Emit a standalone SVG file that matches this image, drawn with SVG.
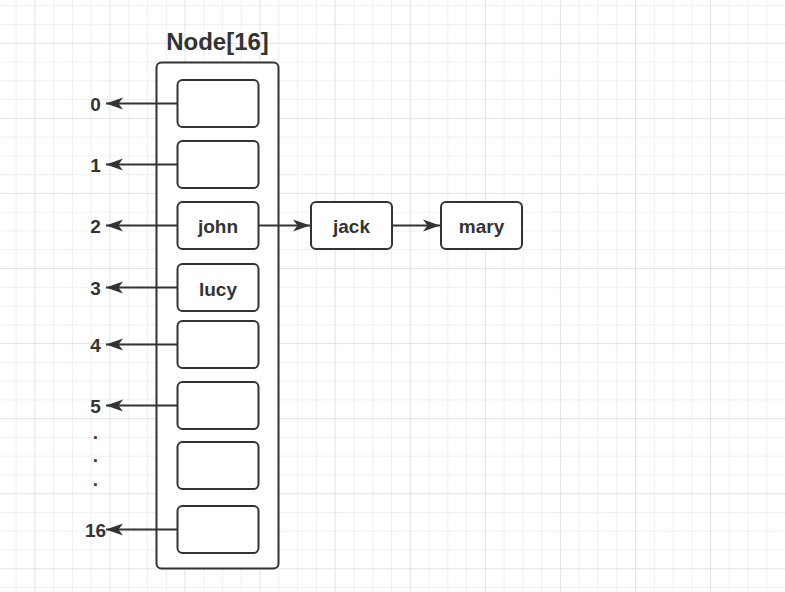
<svg xmlns="http://www.w3.org/2000/svg" width="785" height="592" viewBox="0 0 785 592">
<style>
.box{fill:#ffffff;stroke:#333333;stroke-width:2}
.edge{fill:none;stroke:#333333;stroke-width:2}
.t{font-family:"Liberation Sans",Arial,sans-serif;font-weight:bold;fill:#333333;text-anchor:middle}
.lbl{font-size:19px}
.num{font-size:19px}
.title{font-size:24px}
</style>
<defs>
<pattern id="grid" patternUnits="userSpaceOnUse" x="34.4" y="42.8" width="75.07" height="75.07">
<rect x="0" y="0" width="75.07" height="75.07" fill="#ffffff"/>
<rect x="18.77" y="0" width="1" height="75.07" fill="#f0f0f0"/>
<rect x="37.53" y="0" width="1" height="75.07" fill="#f0f0f0"/>
<rect x="56.3" y="0" width="1" height="75.07" fill="#f0f0f0"/>
<rect x="0" y="18.77" width="75.07" height="1" fill="#f0f0f0"/>
<rect x="0" y="37.53" width="75.07" height="1" fill="#f0f0f0"/>
<rect x="0" y="56.3" width="75.07" height="1" fill="#f0f0f0"/>
<rect x="0" y="0" width="1" height="75.07" fill="#e3e3e3"/>
<rect x="0" y="0" width="75.07" height="1" fill="#e3e3e3"/>
</pattern>
<marker id="arr" markerUnits="userSpaceOnUse" markerWidth="20" markerHeight="14" viewBox="-18 -7 20 14" refX="0" refY="0" orient="auto">
<path d="M0,0 L-17,-6 L-12.5,0 L-17,6 Z" fill="#333333"/>
</marker>
</defs>
<rect width="785" height="592" fill="url(#grid)"/>

<g id="title"><text class="t title" x="217.5" y="50">Node[16]</text></g>

<g id="array"><rect class="box" x="156.5" y="62.5" width="122" height="506" rx="5"/></g>

<g id="slot0"><rect class="box" x="177.5" y="80" width="81" height="47" rx="5"/></g>
<g id="slot1"><rect class="box" x="177.5" y="141" width="81" height="47" rx="5"/></g>
<g id="slot2"><rect class="box" x="177.5" y="202" width="81" height="47" rx="5"/><text class="t lbl" x="218" y="233">john</text></g>
<g id="slot3"><rect class="box" x="177.5" y="264" width="81" height="47" rx="5"/><text class="t lbl" x="218" y="296">lucy</text></g>
<g id="slot4"><rect class="box" x="177.5" y="321" width="81" height="47" rx="5"/></g>
<g id="slot5"><rect class="box" x="177.5" y="382" width="81" height="47" rx="5"/></g>
<g id="slot6"><rect class="box" x="177.5" y="442" width="81" height="47" rx="5"/></g>
<g id="slot16"><rect class="box" x="177.5" y="506" width="81" height="47" rx="5"/></g>

<g id="jack"><rect class="box" x="311" y="202" width="81" height="47" rx="5"/><text class="t lbl" x="351.5" y="233">jack</text></g>
<g id="mary"><rect class="box" x="441" y="202" width="81" height="47" rx="5"/><text class="t lbl" x="481.5" y="233">mary</text></g>

<g id="idx0"><text class="t num" x="95.5" y="110.5">0</text></g>
<g id="idx1"><text class="t num" x="95.5" y="171.5">1</text></g>
<g id="idx2"><text class="t num" x="95.5" y="232.5">2</text></g>
<g id="idx3"><text class="t num" x="95.5" y="295">3</text></g>
<g id="idx4"><text class="t num" x="95.5" y="351.5">4</text></g>
<g id="idx5"><text class="t num" x="95.5" y="412.5">5</text></g>
<g id="dots"><text class="t num" x="95.5" y="439">.</text><text class="t num" x="95.5" y="462">.</text><text class="t num" x="95.5" y="485.5">.</text></g>
<g id="idx16"><text class="t num" x="95.5" y="536.5">16</text></g>

<g id="connectors">
<line class="edge" x1="177.5" y1="103.5" x2="106" y2="103.5" marker-end="url(#arr)"/>
<line class="edge" x1="177.5" y1="164.5" x2="106" y2="164.5" marker-end="url(#arr)"/>
<line class="edge" x1="177.5" y1="225.5" x2="106" y2="225.5" marker-end="url(#arr)"/>
<line class="edge" x1="177.5" y1="287.5" x2="106" y2="287.5" marker-end="url(#arr)"/>
<line class="edge" x1="177.5" y1="344.5" x2="106" y2="344.5" marker-end="url(#arr)"/>
<line class="edge" x1="177.5" y1="405.5" x2="106" y2="405.5" marker-end="url(#arr)"/>
<line class="edge" x1="177.5" y1="529.5" x2="106" y2="529.5" marker-end="url(#arr)"/>
<line class="edge" x1="258.5" y1="225.5" x2="310" y2="225.5" marker-end="url(#arr)"/>
<line class="edge" x1="392" y1="225.5" x2="440" y2="225.5" marker-end="url(#arr)"/>
</g>
</svg>
